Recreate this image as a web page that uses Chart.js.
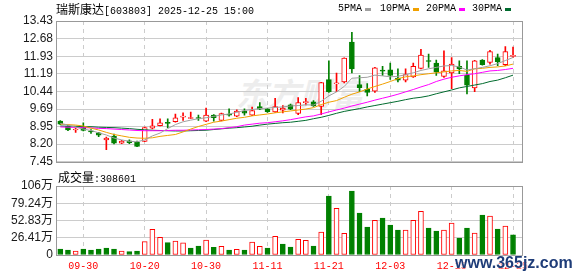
<!DOCTYPE html>
<html>
<head>
<meta charset="utf-8">
<script src="https://cdn.jsdelivr.net/npm/chart.js@4.4.0/dist/chart.umd.min.js"></script>
<style>
  html, body { margin: 0; padding: 0; background: #fff; }
  #wrap { position: relative; width: 578px; height: 276px; overflow: hidden; }
  canvas { position: absolute; left: 0; z-index: 1; }
  #kline { top: 0; }
  #vol { top: 172px; }
  .txt { position: absolute; z-index: 2; white-space: nowrap; font-family: "Liberation Mono", monospace; font-size: 10px; line-height: 12px; color: #000; }
  .cjk { font-family: "Noto Sans CJK SC", sans-serif; font-size: 12px; }
  .sq { position: absolute; z-index: 2; width: 6px; height: 3px; top: 8px; }
  #wm { position: absolute; z-index: 0; left: 236px; top: 74px; font-family: "Noto Sans CJK SC", sans-serif; font-size: 32px; line-height: 36px; font-style: italic; font-weight: bold; color: #ededed; }
  #site { position: absolute; z-index: 3; left: 455px; top: 254px; font-family: "Liberation Sans", sans-serif; font-weight: bold; font-size: 16px; line-height: 18px; color: #1e3c78; text-shadow: 0 0 2px #fff, 0 0 2px #fff; }
</style>
</head>
<body>
<div id="wrap">
  <div id="wm">东方财富</div>
  <canvas id="kline" width="578" height="172"></canvas>
  <canvas id="vol" width="578" height="104"></canvas>

  <div class="txt" style="left:56px; top:3px;"><span class="cjk">瑞斯康达</span>[603803] 2025-12-25 15:00</div>

  <div class="txt" style="left:338px; top:3px;">5PMA</div>
  <div class="sq" style="left:365px; background:#a0a0a0;"></div>
  <div class="txt" style="left:380px; top:3px;">10PMA</div>
  <div class="sq" style="left:413px; background:#f0a000;"></div>
  <div class="txt" style="left:426px; top:3px;">20PMA</div>
  <div class="sq" style="left:459px; background:#ff00ff;"></div>
  <div class="txt" style="left:472px; top:3px;">30PMA</div>
  <div class="sq" style="left:505px; background:#006b2e;"></div>

  <div class="txt" style="left:58px; top:171px;"><span class="cjk">成交量</span>:308601</div>
  <div id="site">www.365jz.com</div>
</div>

<script>
// 日期 (交易日)
const dates = ['09-25','09-26','09-29','09-30','10-09','10-10','10-13','10-14','10-15','10-16',
  '10-17','10-20','10-21','10-22','10-23','10-24','10-27','10-28','10-29','10-30',
  '10-31','11-03','11-04','11-05','11-06','11-07','11-10','11-11','11-12','11-13',
  '11-14','11-17','11-18','11-19','11-20','11-21','11-24','11-25','11-26','11-27',
  '11-28','12-01','12-02','12-03','12-04','12-05','12-08','12-09','12-10','12-11',
  '12-12','12-15','12-16','12-17','12-18','12-19','12-22','12-23','12-24','12-25'];

// K线
const opens = [9.18,8.97,8.80,8.93,8.75,8.68,8.38,8.54,8.24,8.34,
  8.28,8.32,8.88,8.98,9.11,9.15,9.35,9.29,9.33,9.18,
  9.43,9.21,9.46,9.39,9.60,9.43,9.79,9.70,9.57,9.64,
  9.87,9.50,9.96,10.00,9.80,10.94,10.76,10.84,12.54,10.73,
  10.53,10.45,11.33,11.36,11.01,10.92,11.05,11.42,11.73,11.64,
  11.08,11.22,11.50,11.12,10.59,11.77,11.67,11.88,11.57,11.93];
const highs = [9.20,8.99,8.88,9.11,8.82,8.70,8.50,8.63,8.36,8.38,
  8.33,8.92,9.25,9.28,9.28,9.48,9.53,9.56,9.43,9.73,
  9.46,9.52,9.70,9.66,9.70,9.77,9.97,9.72,10.15,9.84,
  9.90,10.18,10.15,10.05,10.83,11.74,11.22,11.87,12.95,11.11,
  10.77,11.46,11.50,11.64,11.40,11.40,11.64,12.23,12.02,11.77,
  12.16,11.88,11.74,11.74,11.76,11.79,12.18,12.02,12.34,12.32];
const lows = [9.03,8.77,8.70,8.76,8.66,8.52,7.96,8.21,8.22,8.22,
  8.09,8.30,8.85,8.97,8.90,9.13,9.21,9.28,9.21,9.15,
  9.18,9.19,9.39,9.37,9.43,9.41,9.66,9.55,9.55,9.53,
  9.66,9.45,9.87,9.80,9.45,10.40,10.43,10.80,11.22,10.43,
  10.25,10.40,11.12,10.95,10.84,10.84,11.03,11.40,11.46,11.12,
  11.03,10.56,11.19,10.33,10.43,11.55,11.60,11.53,11.53,11.88];
const closes = [9.05,8.80,8.82,8.78,8.72,8.58,8.46,8.24,8.33,8.26,
  8.10,8.90,8.98,9.11,9.08,9.32,9.38,9.31,9.29,9.43,
  9.32,9.50,9.43,9.60,9.52,9.63,9.69,9.58,9.80,9.73,
  9.68,9.97,9.99,9.83,10.81,10.43,10.80,11.85,11.40,10.60,
  10.40,11.44,11.30,11.12,10.92,11.15,11.51,11.98,11.71,11.26,
  11.31,11.60,11.40,10.70,11.74,11.58,12.13,11.70,12.13,11.95];

// 均线
const ma5 = [9.08,9.01,8.92,8.84,8.78,8.68,8.59,8.46,8.38,8.32,
  8.30,8.38,8.55,8.67,8.86,9.03,9.15,9.22,9.28,9.32,
  9.38,9.44,9.48,9.55,9.63,9.67,9.71,9.73,9.76,9.78,
  9.82,9.84,9.87,9.86,10.02,10.25,10.42,10.65,11.00,11.02,
  11.04,11.13,11.10,11.06,11.08,11.15,11.23,11.33,11.40,11.46,
  11.52,11.54,11.48,11.35,11.40,11.46,11.53,11.62,11.75,11.88];
const ma10 = [9.05,9.03,9.01,8.97,8.88,8.80,8.70,8.61,8.55,8.49,
  8.46,8.45,8.47,8.53,8.57,8.61,8.72,8.84,8.95,9.04,
  9.13,9.18,9.24,9.30,9.34,9.40,9.44,9.48,9.53,9.57,
  9.61,9.65,9.69,9.75,9.88,9.98,10.05,10.19,10.32,10.42,
  10.54,10.65,10.75,10.86,10.98,11.06,11.10,11.15,11.19,11.23,
  11.27,11.31,11.33,11.29,11.40,11.42,11.46,11.48,11.52,11.60];
const ma20 = [8.93,8.92,8.91,8.90,8.89,8.87,8.86,8.84,8.82,8.80,
  8.78,8.77,8.77,8.77,8.78,8.79,8.79,8.80,8.81,8.82,
  8.84,8.86,8.90,8.94,9.01,9.05,9.09,9.11,9.15,9.19,
  9.24,9.30,9.36,9.40,9.48,9.57,9.65,9.73,9.82,9.90,
  9.98,10.07,10.15,10.23,10.32,10.42,10.52,10.63,10.73,10.86,
  10.96,11.04,11.10,11.15,11.19,11.25,11.31,11.33,11.37,11.42];
const ma30 = [8.97,8.96,8.96,8.94,8.94,8.92,8.91,8.90,8.88,8.86,
  8.83,8.81,8.79,8.78,8.77,8.76,8.76,8.77,8.78,8.79,
  8.82,8.85,8.88,8.90,8.93,8.96,9.01,9.05,9.08,9.11,
  9.13,9.17,9.21,9.28,9.34,9.42,9.51,9.59,9.65,9.71,
  9.78,9.84,9.90,9.96,10.02,10.09,10.15,10.19,10.25,10.34,
  10.42,10.50,10.59,10.65,10.71,10.77,10.86,10.92,11.02,11.13];

// 成交量 (手)
const volumes = [92000,77000,61000,92000,77000,92000,107000,92000,61000,51000,
  61000,204000,393000,271000,189000,214000,185000,105000,138000,230000,
  117000,133000,77000,87000,77000,199000,133000,107000,286000,168000,
  122000,240000,225000,138000,352000,903000,715000,332000,980000,643000,
  429000,531000,566000,459000,383000,383000,531000,669000,413000,367000,
  383000,490000,260000,413000,337000,612000,597000,398000,444000,308601];

// 刻度
const priceTicks = [7.45,8.20,8.95,9.69,10.44,11.19,11.93,12.68,13.43];
const priceTickLabels = ['7.45','8.20','8.95','9.69','10.44','11.19','11.93','12.68','13.43'];
const volTicks = [0,264100,528300,792400,1056500];
const volTickLabels = ['0','26.41万','52.83万','79.24万','106万'];
const dateTicks = ['09-30','10-20','10-30','11-11','11-21','12-03','12-15','12-25'];

const RED = '#ff0000';
const GREEN = '#008000';
const xMin = -0.56, xMax = 60.17;
const tickIdx = dateTicks.map(d => dates.indexOf(d));

const candleUp = opens.map((o, i) => closes[i] >= o);
const volUp = closes.map((c, i) => i === 0 ? c >= opens[0] : c >= closes[i - 1]);

// 边框
const frame = {
    id: 'frame',
    afterDraw(chart) {
        const a = chart.chartArea;
        const ctx = chart.ctx;
        ctx.save();
        ctx.strokeStyle = '#999';
        ctx.lineWidth = 1;
        ctx.strokeRect(Math.round(a.left) + 0.5, Math.round(a.top) + 0.5,
            Math.round(a.right - a.left), Math.round(a.bottom - a.top));
        ctx.restore();
    }
};

const labelFont = { family: "'Liberation Sans', 'Noto Sans CJK SC', sans-serif", size: 12 };

function maLine(values, color) {
    return {
        type: 'line',
        data: values.map((v, i) => ({ x: i, y: v })),
        borderColor: color,
        borderWidth: 1,
        pointRadius: 0,
        tension: 0,
        order: 0
    };
}

function dateAxis(showLabels) {
    return {
        type: 'linear', min: xMin, max: xMax,
        offset: false,
        bounds: 'data',
        afterBuildTicks: s => { s.ticks = tickIdx.map(v => ({ value: v })); },
        ticks: {
            display: showLabels,
            callback: v => dates[v],
            font: { family: "'Liberation Mono', monospace", size: 10 },
            color: RED, padding: 5, maxRotation: 0, autoSkip: false
        },
        grid: { color: '#cccccc', drawTicks: false, offset: false },
        border: { display: false, dash: [4, 4] },
        afterFit: s => { s.height = showLabels ? 21 : 0; s.paddingLeft = 0; s.paddingRight = 0; }
    };
}

new Chart(document.getElementById('kline'), {
    type: 'bar',
    data: {
        datasets: [
            maLine(ma5, '#a0a0a0'),
            maLine(ma10, '#f0a000'),
            maLine(ma20, '#ff00ff'),
            maLine(ma30, '#006b2e'),
            {
                data: opens.map((o, i) => ({ x: i, y: [o, closes[i]] })),
                backgroundColor: candleUp.map(u => u ? '#ffffff' : GREEN),
                borderColor: candleUp.map(u => u ? RED : GREEN),
                borderWidth: 1,
                borderSkipped: false,
                grouped: false,
                barPercentage: 1,
                categoryPercentage: 1,
                maxBarThickness: 5,
                minBarLength: 1,
                order: 2
            },
            {
                data: lows.map((l, i) => ({ x: i, y: [l, highs[i]] })),
                backgroundColor: candleUp.map(u => u ? RED : GREEN),
                borderWidth: 0,
                grouped: false,
                barPercentage: 1,
                categoryPercentage: 1,
                maxBarThickness: 1,
                order: 3
            }
        ]
    },
    options: {
        responsive: false,
        animation: false,
        devicePixelRatio: 1,
        layout: { autoPadding: false, padding: { top: 21, right: 56, bottom: 7, left: 0 } },
        plugins: { legend: { display: false }, tooltip: { enabled: false } },
        scales: {
            x: dateAxis(false),
            y: {
                min: 7.45, max: 13.43,
                afterBuildTicks: s => { s.ticks = priceTicks.map(v => ({ value: v })); },
                ticks: { callback: (v, i) => priceTickLabels[i], font: labelFont, color: '#1a1a1a', padding: 3, autoSkip: false },
                grid: { color: '#cccccc', drawTicks: false },
                border: { display: false },
                afterFit: s => { s.width = 56; }
            }
        }
    },
    plugins: [frame]
});

new Chart(document.getElementById('vol'), {
    type: 'bar',
    data: {
        datasets: [{
            data: volumes.map((v, i) => ({ x: i, y: v })),
            backgroundColor: volUp.map(u => u ? '#ffffff' : GREEN),
            borderColor: volUp.map(u => u ? RED : GREEN),
            borderWidth: 1,
            borderSkipped: false,
            grouped: false,
            barPercentage: 1,
            categoryPercentage: 1,
            maxBarThickness: 5
        }]
    },
    options: {
        responsive: false,
        animation: false,
        devicePixelRatio: 1,
        layout: { autoPadding: false, padding: { top: 14, right: 56, bottom: 0, left: 0 } },
        plugins: { legend: { display: false }, tooltip: { enabled: false } },
        scales: {
            x: dateAxis(true),
            y: {
                min: 0, max: volTicks[volTicks.length - 1],
                afterBuildTicks: s => { s.ticks = volTicks.map(v => ({ value: v })); },
                ticks: { callback: (v, i) => volTickLabels[i], font: labelFont, color: '#1a1a1a', padding: 3, autoSkip: false },
                grid: { color: '#cccccc', drawTicks: false },
                border: { display: false },
                afterFit: s => { s.width = 56; }
            }
        }
    },
    plugins: [frame]
});
</script>
</body>
</html>
